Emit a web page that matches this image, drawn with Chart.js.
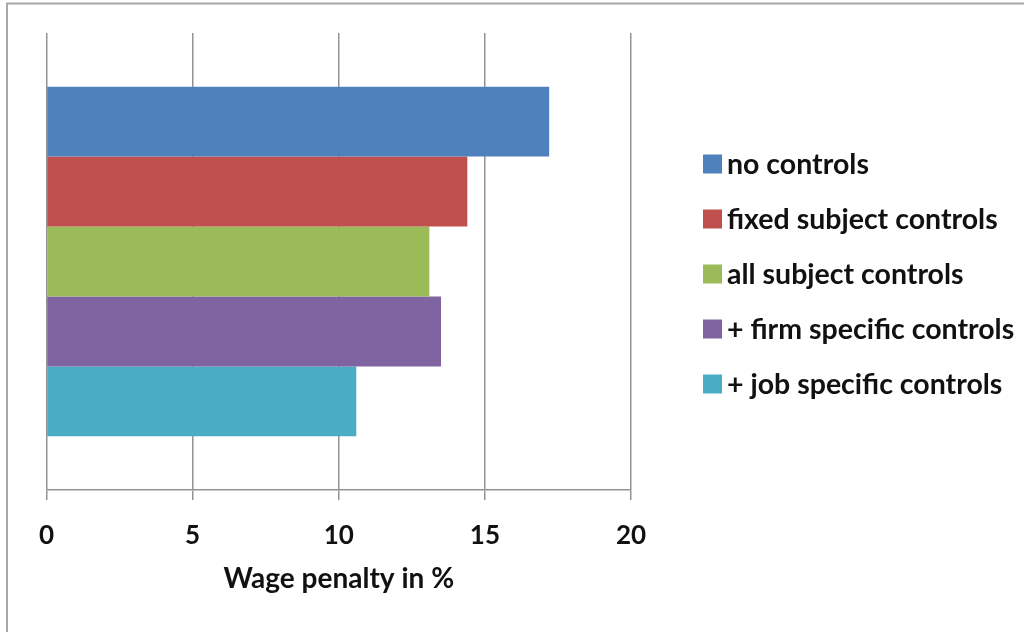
<!DOCTYPE html>
<html>
<head>
<meta charset="utf-8">
<script src="https://cdn.jsdelivr.net/npm/chart.js@4/dist/chart.umd.min.js"></script>
<style>
  html, body { margin: 0; padding: 0; background: #fff; overflow: hidden; }
  #wrap { position: relative; width: 1024px; height: 632px; }
</style>
</head>
<body>
<div id="wrap"><canvas id="c" width="1024" height="632"></canvas></div>
<script>
// Wage penalty estimates under progressively richer sets of controls
const categories = ['Wage penalty'];
const seriesLabels = [
  'no controls',
  'fixed subject controls',
  'all subject controls',
  '+ firm specific controls',
  '+ job specific controls'
];
const seriesValues = [17.2, 14.4, 13.1, 13.5, 10.6];
const seriesColors = ['#4F81BD', '#C0504D', '#9BBB59', '#8064A2', '#4BACC6'];
const xTicks = [0, 5, 10, 15, 20];

const FONT = 'Lato, "Open Sans", "DejaVu Sans", sans-serif';

// Outer frame of the chart object
const framePlugin = {
  id: 'frame',
  beforeDraw(chart) {
    const ctx = chart.ctx;
    ctx.save();
    ctx.strokeStyle = '#a8a8a8';
    ctx.lineWidth = 2;
    ctx.strokeRect(7, 3.5, 1200, 800);
    ctx.restore();
  }
};

// Legend to the right of the plot, one row per series
const sideLegend = {
  id: 'sideLegend',
  afterDraw(chart) {
    const ctx = chart.ctx;
    ctx.save();
    ctx.font = 'bold 28.5px ' + FONT;
    ctx.textBaseline = 'middle';
    ctx.textAlign = 'left';
    chart.data.datasets.forEach((ds, i) => {
      const cy = 164 + i * 55;
      ctx.fillStyle = ds.backgroundColor;
      ctx.fillRect(703, cy - 9.5, 19, 19);
      ctx.fillStyle = '#111';
      ctx.fillText(ds.label, 727, cy + 1);
    });
    ctx.restore();
  }
};

const datasets = seriesLabels.map((label, i) => ({
  label: label,
  data: [seriesValues[i]],
  backgroundColor: seriesColors[i],
  borderWidth: 0,
  categoryPercentage: 0.765,
  barPercentage: 1.0
}));

new Chart(document.getElementById('c'), {
  type: 'bar',
  data: { labels: categories, datasets: datasets },
  plugins: [framePlugin, sideLegend],
  options: {
    indexAxis: 'y',
    responsive: false,
    animation: false,
    layout: { padding: { top: 33, left: 46.5, right: 393, bottom: 0 } },
    plugins: {
      legend: { display: false },
      tooltip: { enabled: false }
    },
    scales: {
      y: { display: false },
      x: {
        type: 'linear',
        min: 0,
        max: 20,
        afterBuildTicks(axis) { axis.ticks = xTicks.map(v => ({ value: v })); },
        afterFit(axis) { axis.height = 142; },
        grid: { color: '#939393', lineWidth: 1.5, tickLength: 10, drawTicks: true },
        border: { color: '#939393', width: 1.5 },
        ticks: {
          padding: 20,
          color: '#111',
          font: { family: FONT, size: 26, weight: 'bold' }
        },
        title: {
          display: true,
          text: 'Wage penalty in %',
          color: '#111',
          font: { family: FONT, size: 28, weight: 'bold' },
          padding: { top: 0, bottom: 36 }
        }
      }
    }
  }
});
</script>
</body>
</html>
